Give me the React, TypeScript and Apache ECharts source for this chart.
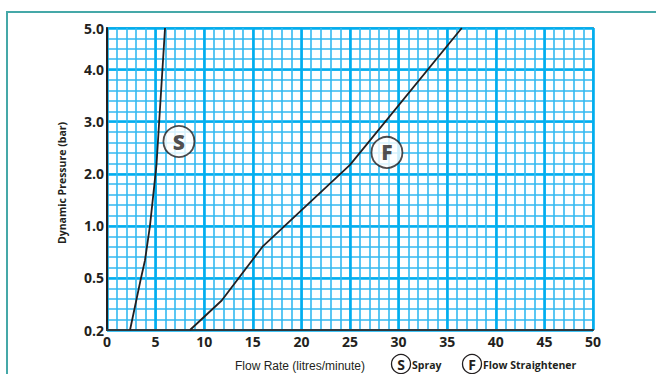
import React, { useEffect, useRef } from "react";
import * as echarts from "echarts";

// ---- data ----
const flowMin = 0;
const flowMax = 50;
const flowMajor = 5;
const flowMinor = 1;

// y axis is a printed non-linear scale: each labelled pressure sits on a grid row
const pressureTicks = [0.2, 0.5, 1.0, 2.0, 3.0, 4.0, 5.0];
const pressureLabels = ["0.2", "0.5", "1.0", "2.0", "3.0", "4.0", "5.0"];
const pressureRows = [0, 5, 10, 15, 20, 25, 29];

const sprayFlow = [2.37, 3.01, 3.5, 3.91, 4.42, 5.09, 5.97];
const sprayPressure = [0.2, 0.37, 0.5, 0.67, 1.0, 2.17, 5.0];

const straightFlow = [8.54, 11.8, 16.0, 25.0, 36.5];
const straightPressure = [0.2, 0.37, 0.8, 2.17, 5.0];

const tagLabels = ["S", "F"];
const tagFlow = [7.4, 28.8];
const tagPressure = [2.62, 2.41];

const xTitle = "Flow Rate (litres/minute)";
const yTitle = "Dynamic Pressure (bar)";
const legendNames = ["Spray", "Flow Straightener"];

// ---- helpers ----
function toRow(p: number): number {
  for (let i = 0; i < pressureTicks.length - 1; i++) {
    const a = pressureTicks[i];
    const b = pressureTicks[i + 1];
    if (p <= b || i === pressureTicks.length - 2) {
      return pressureRows[i] + ((p - a) / (b - a)) * (pressureRows[i + 1] - pressureRows[i]);
    }
  }
  return 0;
}

const INK = "#231f20";
const MAJOR = "#00aeef";
const MINOR = "#33b9f0";
const FONT = "'Open Sans', 'DejaVu Sans', sans-serif";

const hidden = {
  axisLine: { show: false },
  axisTick: { show: false },
  axisLabel: { show: false },
  splitArea: { show: false },
};

export default function App() {
  const ref = useRef<HTMLDivElement>(null);

  useEffect(() => {
    if (!ref.current) return;
    const chart = echarts.init(ref.current, undefined, { renderer: "svg" });
    const rowMax = pressureRows[pressureRows.length - 1];

    const option: any = {
      animation: false,
      backgroundColor: "#ffffff",
      grid: {
        left: 107,
        top: 28,
        width: 486,
        height: 302,
        show: true,
        borderColor: "#8a8a8a",
        borderWidth: 2,
        backgroundColor: "#ffffff",
      },
      xAxis: [
        {
          // minor grid columns
          type: "value",
          min: flowMin,
          max: flowMax,
          interval: flowMinor,
          position: "top",
          ...hidden,
          splitLine: { show: true, lineStyle: { color: MINOR, width: 1.6 } },
        },
        {
          type: "value",
          min: flowMin,
          max: flowMax,
          interval: flowMajor,
          position: "bottom",
          axisLine: { show: true, onZero: false, lineStyle: { color: "#2e3a40", width: 2 } },
          axisTick: { show: false },
          axisLabel: {
            color: INK,
            fontFamily: FONT,
            fontWeight: "bold",
            fontSize: 14,
            margin: 4,
          },
          splitArea: { show: false },
          splitLine: { show: true, lineStyle: { color: MAJOR, width: 2.6 } },
        },
      ],
      yAxis: [
        {
          // minor grid rows
          type: "value",
          min: 0,
          max: rowMax,
          interval: 1,
          position: "right",
          ...hidden,
          splitLine: { show: true, lineStyle: { color: MINOR, width: 1.6 } },
        },
        {
          type: "value",
          min: 0,
          max: rowMax,
          interval: 5,
          position: "left",
          axisLine: { show: true, onZero: false, lineStyle: { color: INK, width: 2 } },
          axisTick: { show: false },
          axisLabel: {
            color: INK,
            fontFamily: FONT,
            fontWeight: "bold",
            fontSize: 14,
            margin: 3,
            showMaxLabel: true,
            formatter: (v: number) => {
              const i = pressureRows.indexOf(Math.round(v));
              return i >= 0 ? pressureLabels[i] : "";
            },
          },
          splitArea: { show: false },
          splitLine: { show: true, lineStyle: { color: MAJOR, width: 2.6 } },
        },
      ],
      series: [
        {
          type: "line",
          name: legendNames[0],
          xAxisIndex: 1,
          yAxisIndex: 1,
          data: sprayFlow.map((f, i) => [f, toRow(sprayPressure[i])]),
          showSymbol: false,
          symbol: "none",
          lineStyle: { color: INK, width: 1.8 },
          z: 5,
        },
        {
          type: "line",
          name: legendNames[1],
          xAxisIndex: 1,
          yAxisIndex: 1,
          data: straightFlow.map((f, i) => [f, toRow(straightPressure[i])]),
          showSymbol: false,
          symbol: "none",
          lineStyle: { color: INK, width: 1.8 },
          z: 5,
        },
        {
          type: "scatter",
          xAxisIndex: 1,
          yAxisIndex: 1,
          data: tagFlow.map((f, i) => ({ value: [f, toRow(tagPressure[i])], name: tagLabels[i] })),
          symbol: "circle",
          symbolSize: 31,
          itemStyle: { color: "#ffffff", borderColor: INK, borderWidth: 1.8 },
          label: {
            show: true,
            position: "inside",
            formatter: (p: any) => p.name,
            color: INK,
            fontFamily: FONT,
            fontWeight: 800,
            fontSize: 21,
          },
          z: 6,
        },
      ],
      graphic: [
        {
          type: "polyline",
          shape: { points: [[7, 374], [7, 12], [656, 12]] },
          style: { stroke: "#45a8a8", lineWidth: 2, fill: "none" },
          silent: true,
        },
        {
          type: "text",
          x: 62,
          y: 183,
          rotation: Math.PI / 2,
          style: {
            text: yTitle,
            fill: INK,
            font: `bold 10.5px ${FONT}`,
            align: "center",
            verticalAlign: "middle",
          },
        },
        {
          type: "text",
          x: 300,
          y: 366,
          style: {
            text: xTitle,
            fill: INK,
            font: "12px 'Liberation Sans', Arial, sans-serif",
            align: "center",
            verticalAlign: "middle",
          },
        },
        {
          type: "circle",
          shape: { cx: 401, cy: 364, r: 9.5 },
          style: { fill: "#ffffff", stroke: INK, lineWidth: 1.3 },
        },
        {
          type: "text",
          x: 401,
          y: 364.5,
          style: { text: tagLabels[0], fill: INK, font: `bold 14px ${FONT}`, align: "center", verticalAlign: "middle" },
        },
        {
          type: "text",
          x: 412,
          y: 365,
          style: { text: legendNames[0], fill: INK, font: `bold 10.5px ${FONT}`, align: "left", verticalAlign: "middle" },
        },
        {
          type: "circle",
          shape: { cx: 472, cy: 364, r: 9.5 },
          style: { fill: "#ffffff", stroke: INK, lineWidth: 1.3 },
        },
        {
          type: "text",
          x: 472,
          y: 364.5,
          style: { text: tagLabels[1], fill: INK, font: `bold 14px ${FONT}`, align: "center", verticalAlign: "middle" },
        },
        {
          type: "text",
          x: 483,
          y: 365,
          style: { text: legendNames[1], fill: INK, font: `bold 10.5px ${FONT}`, align: "left", verticalAlign: "middle" },
        },
      ],
    };

    chart.setOption(option);
    return () => chart.dispose();
  }, []);

  return (
    <div
      ref={ref}
      style={{ position: "fixed", left: 0, top: 0, width: 656, height: 374, background: "#fff" }}
    />
  );
}
